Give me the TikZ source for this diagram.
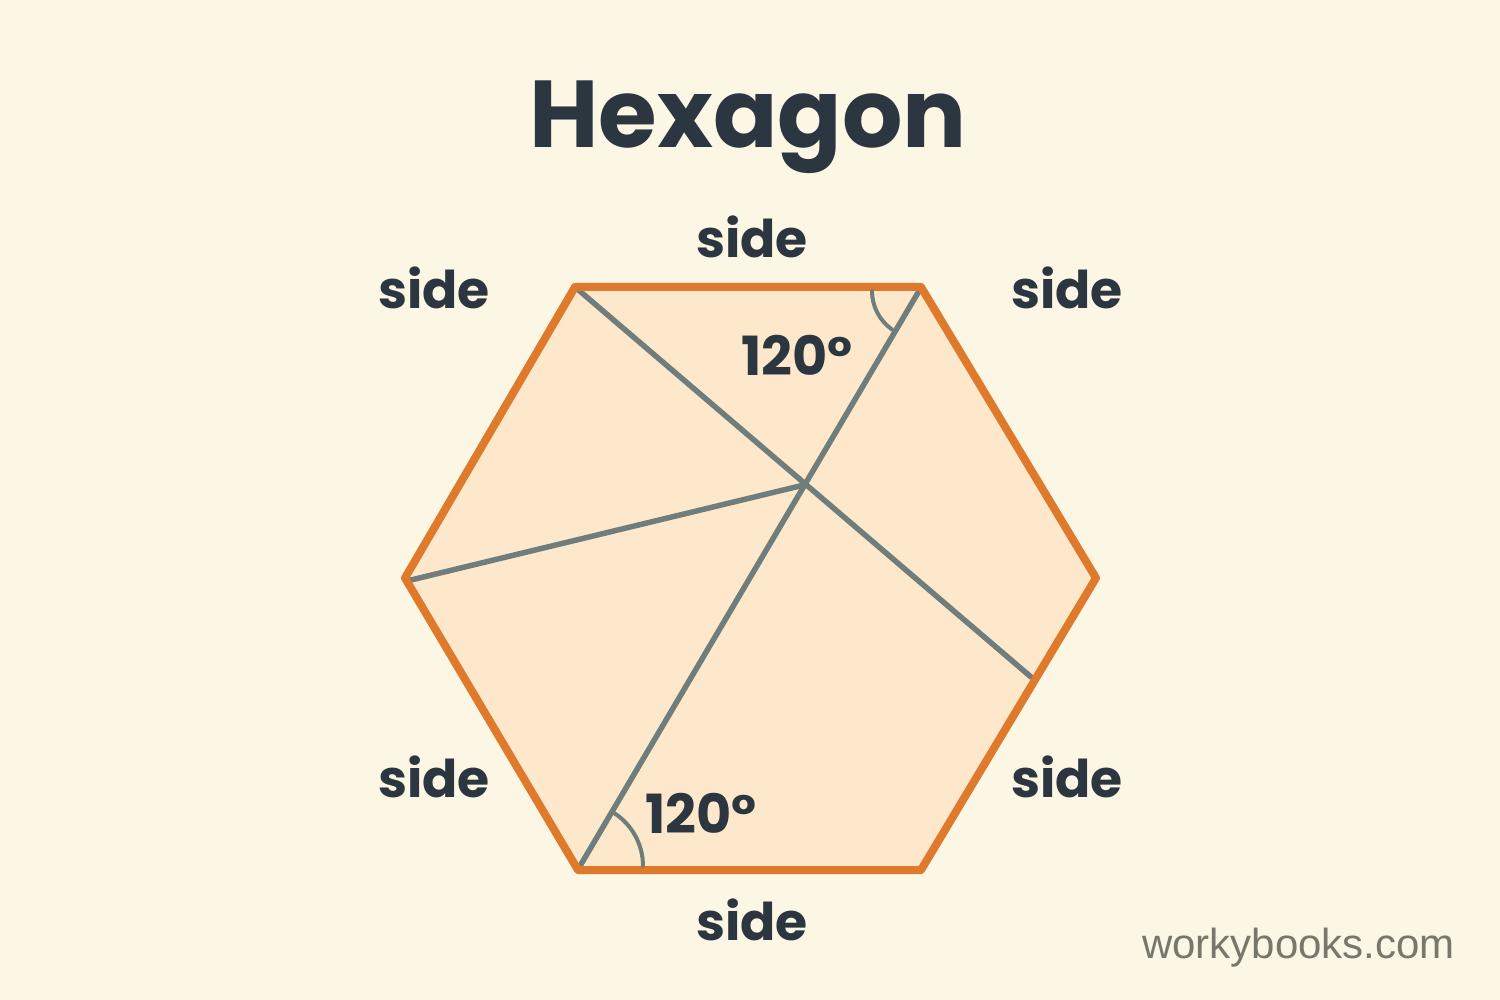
\documentclass[tikz,border=0pt]{standalone}
\usepackage{fontspec}
\setmainfont{Poppins}
\newfontfamily\webfont{Liberation Sans}
\definecolor{bgc}{HTML}{FCF6E4}
\definecolor{hexfill}{HTML}{FDE8CB}
\definecolor{hexedge}{HTML}{DF7A2C}
\definecolor{diag}{HTML}{6F7D7C}
\definecolor{ink}{HTML}{2C3641}
\definecolor{webc}{HTML}{77776C}
\begin{document}
\begin{tikzpicture}[x=1pt,y=-1pt,
  sidelabel/.style={font=\fontsize{52}{52}\selectfont\bfseries, text=ink, inner sep=0pt},
  anglabel/.style={font=\fontsize{54}{54}\selectfont\bfseries, text=ink, inner sep=0pt},
  diagline/.style={draw=diag, line width=5.5pt, line cap=round},
  anglemark/.style={draw=diag, line width=4pt, line cap=round}]
\fill[bgc] (0,0) rectangle (1500,1000);
\useasboundingbox (0,0) rectangle (1500,1000);
\node[font=\fontsize{95}{95}\selectfont\bfseries, text=ink, inner sep=0pt, anchor=base] (title) at (748,148) {Hexagon};
\coordinate (tl) at (575,287);
\coordinate (tr) at (921,287);
\coordinate (r) at (1096,578);
\coordinate (br) at (921,870);
\coordinate (bl) at (578,870);
\coordinate (l) at (405,578);
\coordinate (c) at (804,485);
\coordinate (e1) at (1031,677);
\fill[hexfill] (tl) -- (tr) -- (r) -- (br) -- (bl) -- (l) -- cycle;
\draw[diagline] (tl) -- (e1);
\draw[diagline] (919,291) -- (580,866);
\draw[diagline] (411,580) -- (c);
\draw[draw=hexedge, line width=8pt, line join=round] (tl) -- (tr) -- (r) -- (br) -- (bl) -- (l) -- cycle;
\draw[anglemark] (919,291) ++(180:47) arc[start angle=180, end angle=125, radius=47];
\draw[anglemark] (580,866) ++(0:63) arc[start angle=0, end angle=-58, radius=63];
\node[sidelabel, anchor=base] (s1) at (752,258) {side};
\node[sidelabel, anchor=base] (s2) at (434,309) {side};
\node[sidelabel, anchor=base] (s3) at (1067,309) {side};
\node[sidelabel, anchor=base] (s4) at (434,797) {side};
\node[sidelabel, anchor=base] (s5) at (1067,797) {side};
\node[sidelabel, anchor=base] (s6) at (752,940) {side};
\node[anglabel, anchor=base west] (a1) at (741,375) {120°};
\node[anglabel, anchor=base west] (a2) at (645,833) {120°};
\node[font=\webfont\fontsize{42}{42}\selectfont, text=webc, inner sep=0pt, anchor=base east] (web) at (1455,958) {workybooks.com};
\end{tikzpicture}
\end{document}
